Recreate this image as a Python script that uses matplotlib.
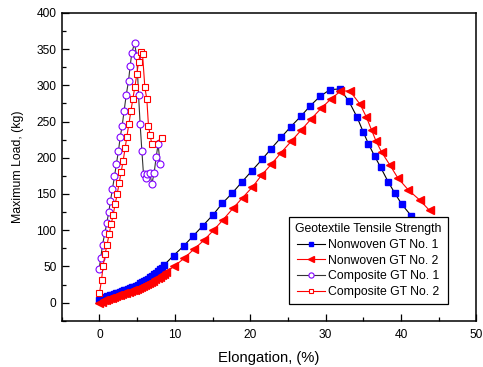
import matplotlib

matplotlib.use("Agg")

import matplotlib.pyplot as plt
from matplotlib.ticker import MultipleLocator

# Nonwoven GT No. 1 (dense start, then sparse)
nw1_x = [0.0, 0.27, 0.53, 0.8, 1.06, 1.33, 1.6, 1.86, 2.13, 2.4, 2.66, 2.93,
         3.2, 3.46, 3.73, 4.0, 4.26, 4.53, 4.8, 5.06, 5.33, 5.6, 5.86, 6.13,
         6.4, 6.66, 6.93, 7.2, 7.46, 7.73, 8.0, 8.26, 8.58,
         9.83, 11.15, 12.43, 13.7, 15.05, 16.3, 17.6, 18.9, 20.2, 21.6, 22.8,
         24.1, 25.4, 26.7, 28.0, 29.3, 30.6, 31.9, 33.1, 34.2, 35.0, 35.7,
         36.5, 37.3, 38.3, 39.2, 40.1, 41.4]
nw1_y = [3, 5, 6.5, 8, 9, 10, 11, 12, 13, 14, 15, 16,
         17, 18, 19, 20, 21, 22, 23.5, 25, 26.5, 28, 29.5, 31,
         33, 35, 37, 39, 41, 43.5, 46, 48.5, 52,
         65, 78, 92, 106, 121, 137, 151, 166.5, 181.7, 198, 212.7,
         228, 243, 257, 272, 285, 294, 295, 278, 255.6, 235.7, 219,
         202.5, 187, 167, 151, 136, 119.5]

# Nonwoven GT No. 2
nw2_x = [0.0, 0.28, 0.55, 0.83, 1.1, 1.38, 1.65, 1.93, 2.2, 2.48, 2.75, 3.03,
         3.3, 3.58, 3.85, 4.13, 4.4, 4.68, 4.95, 5.23, 5.5, 5.78, 6.05, 6.33,
         6.6, 6.88, 7.15, 7.43, 7.7, 7.98, 8.25, 8.53, 8.8,
         9.9, 11.2, 12.56, 13.85, 15.1, 16.4, 17.7, 19.0, 20.3, 21.5, 22.8,
         24.1, 25.45, 26.8, 28.1, 29.4, 30.7, 31.95, 33.2, 34.6, 35.4, 36.1,
         36.7, 37.45, 38.5, 39.6, 41.0, 42.5, 43.8]
nw2_y = [0, 1.5, 3, 4, 5, 6, 7, 8, 9, 10, 11, 12,
         13, 14, 15, 16, 17, 18, 19, 20, 21, 22.5, 24, 25.5,
         27, 28.5, 30, 32, 34, 36, 38, 40, 42,
         50, 61, 74, 86, 99.6, 114.4, 130, 145, 159.6, 175.8, 191,
         207, 222.8, 238.5, 253.7, 268, 281, 291.6, 292.5, 273.6, 256.5, 238.5,
         223, 207.6, 190.6, 172, 155.4, 141.6, 127.3]

# Composite GT No. 1
c1_x = [-0.05, 0.17, 0.4, 0.7, 0.97, 1.24, 1.46, 1.72, 1.99, 2.25, 2.52, 2.74,
        3.0, 3.27, 3.54, 3.85, 4.07, 4.29, 4.65, 4.95, 5.18, 5.39, 5.62, 5.84,
        6.15, 6.37, 6.68, 6.95, 7.25, 7.52, 7.78, 8.05]
c1_y = [46.6, 62, 80, 95.5, 110, 125.5, 140.8, 157, 174.4, 192, 209.5, 228,
        243.6, 265, 286, 306, 326.6, 345, 358, 340, 287, 247, 210, 177,
        172.6, 177, 178.5, 163.8, 179, 201, 218.7, 191]

# Composite GT No. 2
c2_x = [0.0, 0.27, 0.48, 0.74, 1.0, 1.28, 1.54, 1.81, 2.07, 2.34, 2.6, 2.87,
        3.14, 3.4, 3.63, 3.89, 4.16, 4.42, 4.69, 4.95, 5.18, 5.45, 5.71, 6.02,
        6.28, 6.5, 6.72, 6.95, 8.27]
c2_y = [13.4, 31.4, 50.8, 67, 80, 94.5, 108, 121, 135.6, 149.5, 164.7, 180,
        196, 213, 229, 246, 264, 281, 297.6, 315, 332, 346, 343, 297,
        281, 244, 231, 218.7, 226.6]

plt.rcParams["font.family"] = ["Liberation Sans", "DejaVu Sans"]

fig = plt.figure(figsize=(4.83, 3.67), dpi=100)
ax = fig.add_axes([0.128, 0.126, 0.858, 0.839])

ax.plot(nw1_x, nw1_y, color="black", lw=0.8, marker="s", ms=4.6,
        mfc="blue", mec="blue", label="Nonwoven GT No. 1")
ax.plot(nw2_x, nw2_y, color="red", lw=0.8, marker="<", ms=5.5,
        mfc="red", mec="red", label="Nonwoven GT No. 2")
ax.plot(c1_x, c1_y, color="#333333", lw=0.8, marker="o", ms=5,
        mfc="white", mec="#8000ff", mew=0.8, label="Composite GT No. 1")
ax.plot(c2_x, c2_y, color="red", lw=0.8, marker="s", ms=4.6,
        mfc="white", mec="red", mew=0.8, label="Composite GT No. 2")

ax.set_xlim(-5, 50)
ax.set_ylim(-25, 400)
ax.xaxis.set_major_locator(MultipleLocator(10))
ax.xaxis.set_minor_locator(MultipleLocator(5))
ax.yaxis.set_major_locator(MultipleLocator(50))
ax.yaxis.set_minor_locator(MultipleLocator(25))
ax.tick_params(which="both", direction="in", labelsize=8.6)
ax.tick_params(which="major", length=5, width=0.9)
ax.tick_params(axis="x", pad=6)
ax.tick_params(axis="y", pad=4)
ax.tick_params(which="minor", length=3, width=0.9)
for spine in ax.spines.values():
    spine.set_linewidth(1.1)

ax.set_xlabel("Elongation, (%)", fontsize=10.6, labelpad=7)
ax.set_ylabel("Maximum Load, (kg)", fontsize=8.8, labelpad=9)

leg = ax.legend(title="Geotextile Tensile Strength", loc="lower left",
                bbox_to_anchor=(0.548, 0.054), borderaxespad=0,
                fontsize=8.8, title_fontsize=8.8,
                fancybox=False, edgecolor="black", framealpha=1,
                handlelength=2.3, borderpad=0.5, labelspacing=0.3,
                handletextpad=0.3, markerscale=0.75)
leg.get_frame().set_linewidth(0.9)

fig.savefig("out.png", dpi=100)
